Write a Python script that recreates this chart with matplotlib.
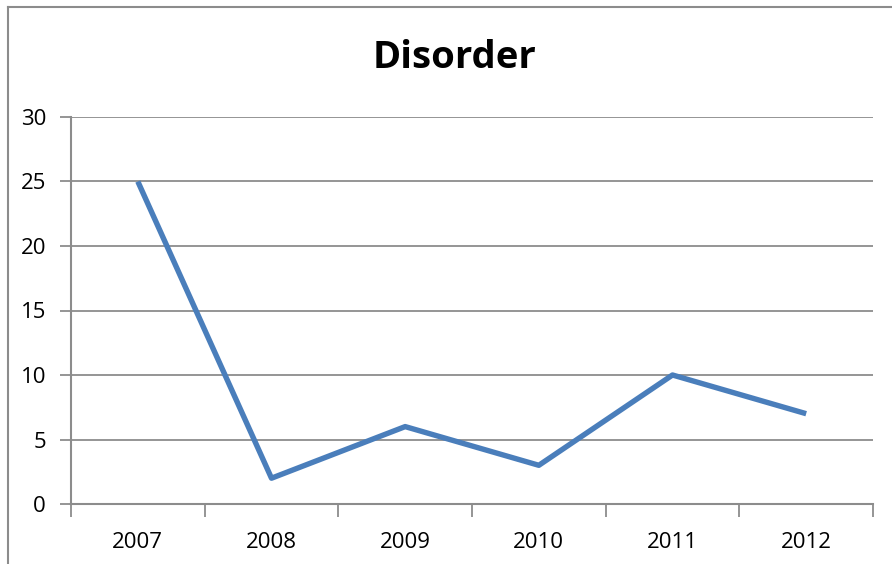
import matplotlib
matplotlib.use("Agg")
import matplotlib.pyplot as plt
from matplotlib.lines import Line2D

years = ["2007", "2008", "2009", "2010", "2011", "2012"]
disorder = [25, 2, 6, 3, 10, 7]
y_ticks = [0, 5, 10, 15, 20, 25, 30]

W, H = 892, 564
DPI = 100
plt.rcParams["font.family"] = ["Open Sans", "DejaVu Sans"]

fig = plt.figure(figsize=(W / DPI, H / DPI), dpi=DPI)
fig.patch.set_facecolor("white")

# chart-area frame (only left and top edges fall inside the canvas)
frame_col = "#8c8c8c"
fig.add_artist(Line2D([7.5 / W, 7.5 / W], [0, 1 - 6.5 / H], transform=fig.transFigure,
                      color=frame_col, lw=1.5))
fig.add_artist(Line2D([7.5 / W, 1], [1 - 6.5 / H, 1 - 6.5 / H], transform=fig.transFigure,
                      color=frame_col, lw=1.5))

left, right, top, bottom = 71, 873, 117, 504
ax = fig.add_axes([left / W, 1 - bottom / H, (right - left) / W, (bottom - top) / H])

x = list(range(len(years)))
ax.plot(x, disorder, color="#4A7EBB", lw=3.9, solid_joinstyle="round",
        solid_capstyle="butt", zorder=3)

ax.set_xlim(-0.5, len(years) - 0.5)
ax.set_ylim(0, 30)
ax.set_yticks(y_ticks)
ax.set_yticklabels([str(v) for v in y_ticks])
ax.set_xticks(x)
ax.set_xticklabels(years)
ax.set_xticks([i - 0.5 for i in range(len(years) + 1)], minor=True)

grid_col = "#8c8c8c"
ax.yaxis.grid(True, color=grid_col, lw=1.3)
ax.set_axisbelow(True)
for side in ("top", "right"):
    ax.spines[side].set_visible(False)
for side in ("left", "bottom"):
    ax.spines[side].set_color(grid_col)
    ax.spines[side].set_linewidth(1.5)

ax.tick_params(axis="y", which="major", length=8, width=1.3, color=grid_col,
               labelsize=16, labelcolor="black", pad=10)
ax.tick_params(axis="x", which="major", length=0, labelsize=16,
               labelcolor="black", pad=20)
ax.tick_params(axis="x", which="minor", length=9, width=1.3, color=grid_col)

fig.text(455 / W, 1 - 58 / H, "Disorder", ha="center", va="center",
         fontsize=27.5, fontweight="bold", color="black")

fig.savefig("out.png", dpi=DPI)
